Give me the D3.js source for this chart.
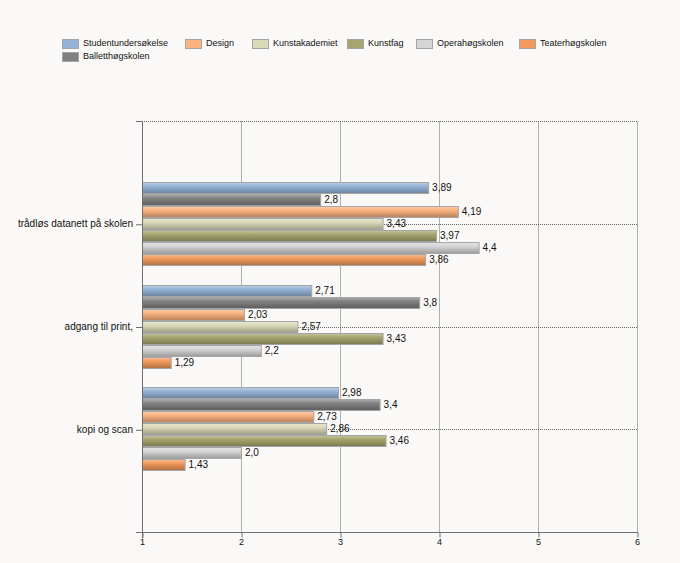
<!DOCTYPE html>
<html><head><meta charset="utf-8">
<script src="https://cdn.jsdelivr.net/npm/d3@7"></script>
<style>
html,body{margin:0;padding:0;background:#faf9f7;}
svg{display:block;font-family:"Liberation Sans",Arial,sans-serif;}
</style></head><body>
<svg id="c" width="680" height="563"></svg>
<script>
const categories = ["trådløs datanett på skolen", "adgang til print,", "kopi og scan"];
const seriesNames = ["Studentundersøkelse", "Balletthøgskolen", "Design", "Kunstakademiet", "Kunstfag", "Operahøgskolen", "Teaterhøgskolen"];
const legendOrder = ["Studentundersøkelse", "Design", "Kunstakademiet", "Kunstfag", "Operahøgskolen", "Teaterhøgskolen", "Balletthøgskolen"];
const studentValues = [3.89, 2.71, 2.98];
const ballettValues = [2.8, 3.8, 3.4];
const designValues = [4.19, 2.03, 2.73];
const kunstakademietValues = [3.43, 2.57, 2.86];
const kunstfagValues = [3.97, 3.43, 3.46];
const operaValues = [4.4, 2.2, 2.0];
const teaterValues = [3.86, 1.29, 1.43];
const xTicks = [1, 2, 3, 4, 5, 6];
const colors = {
  "Studentundersøkelse": "#95b3d7",
  "Balletthøgskolen": "#808080",
  "Design": "#fab27f",
  "Kunstakademiet": "#dad9b9",
  "Kunstfag": "#a6a56e",
  "Operahøgskolen": "#d5d5d5",
  "Teaterhøgskolen": "#f29a5c"
};
const valuesBySeries = {
  "Studentundersøkelse": studentValues,
  "Balletthøgskolen": ballettValues,
  "Design": designValues,
  "Kunstakademiet": kunstakademietValues,
  "Kunstfag": kunstfagValues,
  "Operahøgskolen": operaValues,
  "Teaterhøgskolen": teaterValues
};

const svg = d3.select("#c");
const FONT = "'Liberation Sans',Arial,sans-serif";
const L = 142, R = 637, T = 121, B = 532;
const x = d3.scaleLinear().domain([1, 6]).range([L, R]);
const yCat = d3.scalePoint().domain(categories).range([T, B]).padding(1);
const inner = d3.scaleBand().domain(seriesNames).range([-42, 42]).paddingInner(0.08).paddingOuter(0.04);

const defs = svg.append("defs");
seriesNames.forEach((s, i) => {
  const c = d3.color(colors[s]);
  const g = defs.append("linearGradient").attr("id", "g" + i).attr("x1", 0).attr("x2", 0).attr("y1", 0).attr("y2", 1);
  g.append("stop").attr("offset", "0%").attr("stop-color", d3.interpolateRgb(c, "#fff")(0.35));
  g.append("stop").attr("offset", "35%").attr("stop-color", c.formatHex());
  g.append("stop").attr("offset", "60%").attr("stop-color", c.darker(0.3).formatHex());
  g.append("stop").attr("offset", "100%").attr("stop-color", c.darker(0.9).formatHex());
});

// gridlines
const grid = svg.append("g").attr("stroke", "#666").attr("stroke-width", 1).attr("stroke-dasharray", "1,1").attr("fill", "none");
xTicks.slice(1).forEach(t => {
  grid.append("line").attr("x1", Math.round(x(t)) + 0.5).attr("x2", Math.round(x(t)) + 0.5).attr("y1", T + 0.5).attr("y2", B);
});
grid.append("line").attr("x1", L).attr("x2", R + 0.5).attr("y1", T + 0.5).attr("y2", T + 0.5);
categories.forEach(c => {
  const yy = Math.round(yCat(c)) + 0.5;
  grid.append("line").attr("x1", L).attr("x2", R + 0.5).attr("y1", yy).attr("y2", yy);
});

// bars
const groups = svg.append("g").selectAll("g").data(categories).join("g")
  .attr("transform", d => `translate(0,${Math.round(yCat(d))})`);
groups.each(function(cat, ci) {
  const g = d3.select(this);
  seriesNames.forEach((s, si) => {
    const v = valuesBySeries[s][ci];
    const y0 = Math.round(inner(s));
    const h = Math.round(inner.bandwidth());
    g.append("rect").attr("x", L + 0.5).attr("y", y0 + 0.5)
      .attr("width", x(v) - L).attr("height", h)
      .attr("fill", `url(#g${si})`).attr("stroke", "#a5a5a5").attr("stroke-width", 1);
    const lbl = (Number.isInteger(v) ? v.toFixed(1) : String(v)).replace(".", ",");
    g.append("text").attr("x", x(v) + 4).attr("y", y0 + h / 2 + 1)
      .attr("dominant-baseline", "middle").attr("font-size", 10).attr("fill", "#111").text(lbl);
  });
});

// axes
const axisCol = "#6e6e6e";
svg.append("line").attr("x1", L + 0.5).attr("x2", L + 0.5).attr("y1", T).attr("y2", B + 6).attr("stroke", axisCol);
svg.append("line").attr("x1", L - 6).attr("x2", R + 1).attr("y1", B + 0.5).attr("y2", B + 0.5).attr("stroke", axisCol);
svg.append("line").attr("x1", L - 6).attr("x2", L).attr("y1", T + 0.5).attr("y2", T + 0.5).attr("stroke", axisCol);
const xAxis = svg.append("g").attr("transform", `translate(0,${B + 0.5})`)
  .call(d3.axisBottom(x).tickValues(xTicks).tickSize(5).tickFormat(d3.format("d")));
xAxis.select(".domain").remove();
xAxis.selectAll("line").attr("stroke", axisCol).attr("transform", "translate(0.5,0)");
xAxis.selectAll("text").attr("font-size", 9).attr("fill", "#111").attr("font-family", FONT).attr("dy", "0.5em");

const yAxis = svg.append("g").attr("transform", `translate(${L},0)`)
  .call(d3.axisLeft(yCat).tickSize(6).tickPadding(3));
yAxis.select(".domain").remove();
yAxis.selectAll("line").attr("stroke", axisCol).attr("transform", "translate(0,0.5)");
yAxis.selectAll("text").attr("font-size", 10).attr("fill", "#111").attr("font-family", FONT);

// legend
const legendX = [62, 185, 252, 347, 416, 519, 62];
const legendY = [39, 39, 39, 39, 39, 39, 52];
const leg = svg.append("g").selectAll("g").data(legendOrder).join("g")
  .attr("transform", (d, i) => `translate(${legendX[i]},${legendY[i]})`);
leg.append("rect").attr("x", 0.5).attr("y", 0.5).attr("width", 16).attr("height", 9)
  .attr("fill", d => colors[d]).attr("stroke", "#a5a5a5");
leg.append("text").attr("x", 21).attr("y", 5).attr("dominant-baseline", "middle")
  .attr("font-size", 9).attr("fill", "#111").text(d => d);
</script>
</body></html>
